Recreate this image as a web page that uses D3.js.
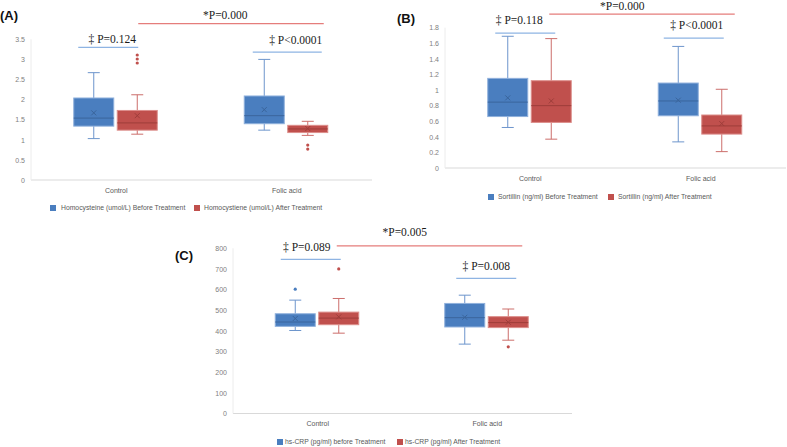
<!DOCTYPE html>
<html><head><meta charset="utf-8">
<script src="https://cdn.jsdelivr.net/npm/d3@7"></script>
<style>body{margin:0;background:#fff}svg{display:block}</style>
</head><body>
<svg id="chart" width="787" height="447"></svg>
<script>
// ---------- DATA ----------
const categories = ["Control", "Folic acid"];
// each stat row: [min, q1, median, q3, max, mean]
const hcyBefore = [[1.03, 1.34, 1.54, 2.04, 2.67, 1.67], [1.24, 1.40, 1.60, 2.09, 3.00, 1.75]];
const hcyAfter  = [[1.14, 1.24, 1.42, 1.73, 2.12, 1.60], [1.11, 1.18, 1.27, 1.36, 1.46, 1.28]];
const hcyBeforeOut = [[], []];
const hcyAfterOut  = [[2.91, 3.01, 3.11], [0.77, 0.87]];
const hcyTicks = [0, 0.5, 1, 1.5, 2, 2.5, 3, 3.5];

const sortBefore = [[0.52, 0.66, 0.845, 1.15, 1.69, 0.90], [0.335, 0.67, 0.86, 1.09, 1.56, 0.87]];
const sortAfter  = [[0.37, 0.585, 0.80, 1.12, 1.66, 0.86], [0.21, 0.435, 0.54, 0.68, 1.01, 0.57]];
const sortBeforeOut = [[], []];
const sortAfterOut  = [[], []];
const sortTicks = [0, 0.2, 0.4, 0.6, 0.8, 1, 1.2, 1.4, 1.6, 1.8];

const crpBefore = [[402, 422, 443, 483, 549, 460], [336, 419, 464, 533, 573, 466]];
const crpAfter  = [[389, 430, 462, 491, 557, 468], [355, 416, 440, 469, 506, 442]];
const crpBeforeOut = [[602], []];
const crpAfterOut  = [[700], [323]];
const crpTicks = [0, 100, 200, 300, 400, 500, 600, 700, 800];

const legendA = ["Homocysteine (umol/L) Before Treatment", "Homocystiene (umol/L) After Treatment"];
const legendB = ["Sortillin (ng/ml) Before Treatment", "Sortillin (ng/ml) After Treatment"];
const legendC = ["hs-CRP (pg/ml) before Treatment", "hs-CRP (pg/ml) After Treatment"];

const pWithinA = ["‡ P=0.124", "‡ P<0.0001"], pBetweenA = "*P=0.000";
const pWithinB = ["‡ P=0.118", "‡ P<0.0001"], pBetweenB = "*P=0.000";
const pWithinC = ["‡ P=0.089", "‡ P=0.008"], pBetweenC = "*P=0.005";

// ---------- STYLE ----------
const COL = {
  before: {fill: "#4a7ebf", stroke: "#8fb0dc", whisk: "#6d95cc", med: "#3a659c", mean: "#3a659c"},
  after:  {fill: "#c0504d", stroke: "#dc8e8b", whisk: "#cc6e6b", med: "#9e3d3a", mean: "#9e3d3a"}
};
const svg = d3.select("#chart");
svg.append("rect").attr("width", 787).attr("height", 447).attr("fill", "#fff");

function panel(cfg) {
  const g = svg.append("g");
  const x = d3.scaleBand().domain(categories).range(cfg.xr);
  const y = d3.scaleLinear().domain(cfg.dom).range(cfg.yr);
  const cx = c => x(c) + x.bandwidth() / 2;
  // axes lines
  g.append("line").attr("x1", cfg.xr[0]).attr("x2", cfg.xr[1]).attr("y1", y(0)).attr("y2", y(0))
    .attr("stroke", "#d9d9d9").attr("stroke-width", 1);
  g.append("line").attr("x1", cfg.xr[0]).attr("x2", cfg.xr[0]).attr("y1", y(0)).attr("y2", y(cfg.dom[1]))
    .attr("stroke", "#ececec").attr("stroke-width", 1);
  // y tick labels
  const ax = d3.axisLeft(y).tickValues(cfg.ticks).tickSize(0).tickPadding(6).tickFormat(d => String(d));
  const ag = g.append("g").attr("transform", `translate(${cfg.xr[0]},0)`).call(ax);
  ag.select(".domain").remove();
  ag.selectAll("text").attr("font-family", "Liberation Sans, Arial, sans-serif").attr("font-size", 7).attr("fill", "#808080");
  // x category labels
  const xa = d3.axisBottom(x).tickSize(0).tickPadding(8);
  const xg = g.append("g").attr("transform", `translate(0,${y(0)})`).call(xa);
  xg.select(".domain").remove();
  xg.selectAll("text").attr("font-family", "Liberation Sans, Arial, sans-serif").attr("font-size", 7).attr("fill", "#595959");

  const series = [
    {stats: cfg.before, out: cfg.beforeOut, off: -22.5, c: COL.before},
    {stats: cfg.after, out: cfg.afterOut, off: 21, c: COL.after}
  ];
  const bw = 40, cap = 12;
  series.forEach(s => {
    categories.forEach((cat, i) => {
      const [mn, q1, md, q3, mx, mean] = s.stats[i];
      const xc = cx(cat) + s.off;
      const bg = g.append("g");
      bg.append("line").attr("x1", xc).attr("x2", xc).attr("y1", y(q3)).attr("y2", y(mx)).attr("stroke", s.c.whisk);
      bg.append("line").attr("x1", xc).attr("x2", xc).attr("y1", y(q1)).attr("y2", y(mn)).attr("stroke", s.c.whisk);
      bg.append("line").attr("x1", xc - cap / 2).attr("x2", xc + cap / 2).attr("y1", y(mx)).attr("y2", y(mx)).attr("stroke", s.c.whisk);
      bg.append("line").attr("x1", xc - cap / 2).attr("x2", xc + cap / 2).attr("y1", y(mn)).attr("y2", y(mn)).attr("stroke", s.c.whisk);
      bg.append("rect").attr("x", xc - bw / 2).attr("y", y(q3)).attr("width", bw).attr("height", y(q1) - y(q3))
        .attr("fill", s.c.fill).attr("stroke", s.c.stroke).attr("stroke-width", 1);
      bg.append("line").attr("x1", xc - bw / 2).attr("x2", xc + bw / 2).attr("y1", y(md)).attr("y2", y(md))
        .attr("stroke", s.c.med).attr("stroke-width", 1);
      const m = 2.5, my = y(mean);
      bg.append("path").attr("d", `M${xc - m},${my - m}L${xc + m},${my + m}M${xc - m},${my + m}L${xc + m},${my - m}`)
        .attr("stroke", s.c.mean).attr("stroke-width", 1);
      s.out[i].forEach(v => {
        bg.append("circle").attr("cx", xc).attr("cy", y(v)).attr("r", 1.6).attr("fill", s.c.fill);
      });
    });
  });

  // annotations (significance)
  const serif = "Liberation Serif, Times New Roman, serif";
  cfg.within.forEach((t, i) => {
    const c = cx(categories[i]);
    const a = cfg.withinAnn[i];
    g.append("line").attr("x1", c + a.l0).attr("x2", c + a.l1).attr("y1", y(a.ly)).attr("y2", y(a.ly))
      .attr("stroke", "#8eb4e3").attr("stroke-width", 1.2);
    g.append("text").attr("x", c + a.tx).attr("y", y(a.ly) - a.dy).attr("text-anchor", "middle")
      .attr("font-family", serif).attr("font-size", 11.5).attr("fill", "#1a1a1a").text(t);
  });
  const b = cfg.betweenAnn;
  g.append("line").attr("x1", cx(categories[0]) + b.l0).attr("x2", cx(categories[1]) + b.l1)
    .attr("y1", y(b.ly)).attr("y2", y(b.ly)).attr("stroke", "#e57d7b").attr("stroke-width", 1.2);
  g.append("text").attr("x", cx(categories[0]) + b.tx).attr("y", y(b.ly) - b.dy).attr("text-anchor", "middle")
    .attr("font-family", serif).attr("font-size", 11.5).attr("fill", "#1a1a1a").text(cfg.between);

  // legend
  cfg.legend.forEach((t, i) => {
    const L = cfg.leg[i];
    g.append("rect").attr("x", L.sx).attr("y", cfg.legY - 3).attr("width", 6).attr("height", 6)
      .attr("fill", i === 0 ? COL.before.fill : COL.after.fill);
    g.append("text").attr("x", L.tx).attr("y", cfg.legY).attr("dy", "0.35em")
      .attr("font-family", "Liberation Sans, Arial, sans-serif").attr("font-size", 6.8).attr("fill", "#595959").text(t);
  });
  // panel letter
  g.append("text").attr("x", cfg.letter[0]).attr("y", cfg.letter[1]).attr("font-family", "Liberation Sans, Arial, sans-serif")
    .attr("font-weight", "bold").attr("font-size", 13).attr("fill", "#111").text(cfg.name);
}

panel({
  name: "(A)", letter: [0, 20],
  xr: [31, 372], dom: [0, 3.5], yr: [180, 39.3], ticks: hcyTicks,
  before: hcyBefore, after: hcyAfter, beforeOut: hcyBeforeOut, afterOut: hcyAfterOut,
  within: pWithinA, between: pBetweenA,
  withinAnn: [{l0: -38, l1: 22, ly: 3.30, tx: -4, dy: 4}, {l0: -34, l1: 35, ly: 3.18, tx: 9, dy: 8}],
  betweenAnn: {l0: 22, l1: 37, ly: 3.89, tx: 109, dy: 5},
  legend: legendA, legY: 208, leg: [{sx: 50, tx: 61}, {sx: 194, tx: 204}]
});
panel({
  name: "(B)", letter: [397, 23],
  xr: [445, 786], dom: [0, 1.8], yr: [168, 27.7], ticks: sortTicks,
  before: sortBefore, after: sortAfter, beforeOut: sortBeforeOut, afterOut: sortAfterOut,
  within: pWithinB, between: pBetweenB,
  withinAnn: [{l0: -35, l1: 25, ly: 1.73, tx: -11, dy: 9}, {l0: -37, l1: 23, ly: 1.665, tx: -4, dy: 9}],
  betweenAnn: {l0: 19, l1: 34, ly: 1.975, tx: 92, dy: 4},
  legend: legendB, legY: 197, leg: [{sx: 488, tx: 498}, {sx: 608, tx: 618}]
});
panel({
  name: "(C)", letter: [175, 260],
  xr: [233, 572], dom: [0, 800], yr: [413.5, 248.3], ticks: crpTicks,
  before: crpBefore, after: crpAfter, beforeOut: crpBeforeOut, afterOut: crpAfterOut,
  within: pWithinC, between: pBetweenC,
  withinAnn: [{l0: -37, l1: 23, ly: 746, tx: -11, dy: 8}, {l0: -31, l1: 29, ly: 654, tx: -1, dy: 8}],
  betweenAnn: {l0: 19, l1: 35, ly: 812, tx: 87, dy: 10},
  legend: legendC, legY: 442, leg: [{sx: 277, tx: 285}, {sx: 397, tx: 405}]
});
</script>
</body></html>
